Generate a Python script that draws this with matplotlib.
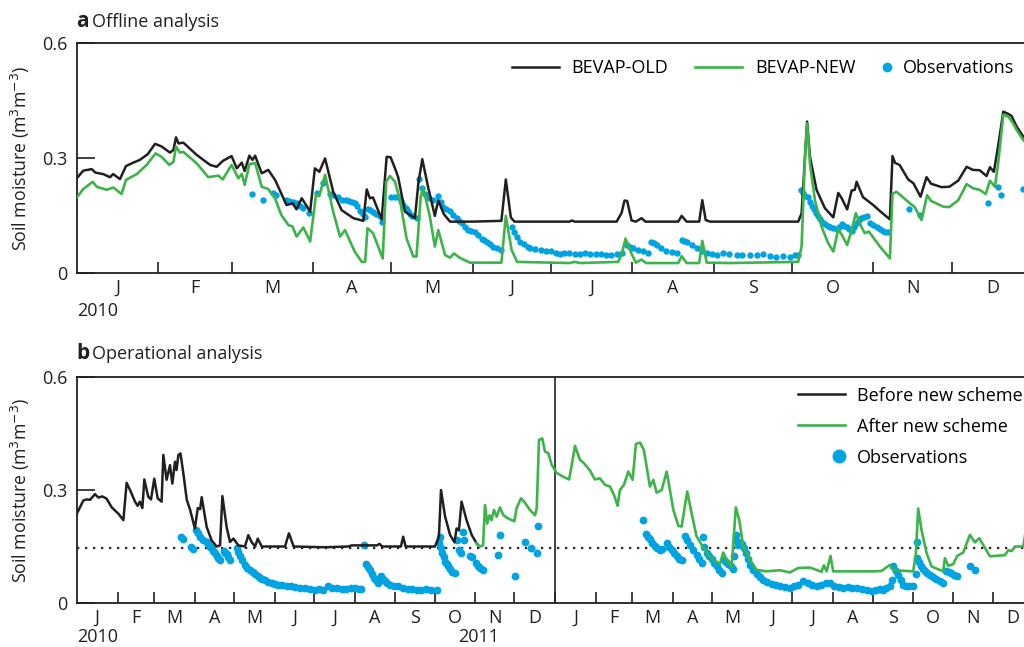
import matplotlib
matplotlib.use('Agg')
import matplotlib.pyplot as plt
from matplotlib.lines import Line2D
from matplotlib.legend_handler import HandlerLine2D
import numpy as np

W, H = 1024, 647
plt.rcParams['font.family'] = ['Open Sans', 'DejaVu Sans']
plt.rcParams['font.size'] = 13

BLACK = '#231f20'
GREEN = '#3cb44a'
BLUE = '#00a3e1'

month_letters = ['J', 'F', 'M', 'A', 'M', 'J', 'J', 'A', 'S', 'O', 'N', 'D']
month_days = [31, 28, 31, 30, 31, 30, 31, 31, 30, 31, 30, 31]

# ---- panel a: offline analysis (x = day of 2010) ----
a_old_day = [0, 2.4, 5.6, 7, 10, 12.6, 13.8, 16.4, 18.7, 21.5, 24, 27, 29.8, 32.3, 35.5, 36.8, 37.8, 38.7,
             40.6, 45.7, 50.8, 53.3, 55.8, 59, 61, 62.9, 64, 65.8, 67, 68, 70.5, 73, 75.6, 80, 82.3, 83.8,
             85.8, 89, 90.8, 92.5, 94.7, 97.8, 101, 105.5, 109.3, 110.6, 111.8, 113, 116.3, 118.2, 119.7,
             121.4, 122.6, 125.2, 129, 130.3, 131.8, 134, 136.6, 137.9, 140, 142.4, 151, 162, 163.7, 165.6,
             167, 188, 189, 190, 206, 207.9, 209, 210, 211.7, 213.3, 215.5, 217, 229.5, 230.8, 232.7, 237.5,
             238.7, 240, 241.7, 275.3, 276.6, 277.9, 278.7, 279.8, 282.3, 285.5, 288.7, 290.6, 291.9, 294,
             295.7, 296.9, 297.6, 300, 304, 306.6, 310.3, 311.3, 312.3, 314, 317.3, 319.3, 322, 324.3, 326,
             330, 333, 336.4, 339.6, 342, 344.6, 347.2, 348.5, 350, 351.6, 353.6, 355.5, 356.7, 358.7, 361.2,
             364]
a_old_val = [.248, .267, .271, .262, .258, .250, .258, .245, .279, .288, .295, .310, .337, .330, .314, .321,
             .354, .338, .340, .308, .282, .277, .293, .305, .273, .288, .266, .306, .295, .306, .260, .269,
             .243, .177, .182, .166, .195, .160, .273, .264, .299, .212, .164, .143, .136, .218, .195, .197,
             .140, .303, .302, .273, .250, .160, .143, .234, .297, .225, .149, .190, .154, .134, .134, .136,
             .244, .145, .134, .134, .137, .134, .134, .157, .189, .188, .137, .134, .143, .134, .134, .149,
             .134, .134, .190, .138, .134, .134, .156, .303, .395, .303, .217, .169, .145, .209, .195, .166,
             .215, .217, .238, .198, .177, .161, .140, .305, .287, .282, .244, .234, .199, .250, .233, .224,
             .225, .241, .277, .269, .268, .253, .276, .264, .330, .421, .415, .410, .382, .356, .340]

a_new_day = [0, 2.4, 6, 7.5, 11.3, 13.9, 17, 18.7, 22.8, 26.6, 30, 32.3, 35.2, 36.8, 37.8, 39.3, 40.6, 45.7,
             50.1, 54, 55.6, 59, 61.6, 62.9, 64, 65.8, 68, 70.5, 73, 75.6, 78, 80.7, 82.3, 83.8, 86.4, 89,
             91.2, 92.5, 94.7, 97.8, 100.4, 102.3, 106, 108.7, 110, 110.9, 113, 116.7, 118, 119.5, 121.4,
             123.3, 125.8, 128.4, 129.6, 131.2, 132.2, 134.7, 136.6, 137.9, 140.5, 142.4, 143.9, 146, 150,
             162, 163.7, 165.9, 168, 188, 190, 192, 206.6, 208, 209.4, 211.5, 213.3, 215.5, 217.2, 229.5,
             230.8, 232.7, 237.5, 238.7, 240.4, 249, 275.3, 276.6, 277.9, 278.7, 279.8, 281.7, 284.2, 286.8,
             288.7, 290.6, 291.9, 294, 295.7, 297.3, 299.4, 300.7, 302.3, 306.5, 310.3, 311.3, 312.8, 314.7,
             317.9, 319.8, 322.4, 324.5, 326, 330.7, 333, 336.4, 339.6, 342, 344.6, 346.9, 348.5, 350.4,
             351.6, 353.6, 355.5, 357.3, 358.7, 361.2, 364]
a_new_val = [.198, .219, .238, .225, .217, .223, .206, .243, .258, .282, .312, .303, .282, .290, .330, .314,
             .316, .286, .250, .254, .244, .282, .247, .259, .230, .284, .287, .225, .219, .195, .151, .125,
             .121, .095, .119, .082, .203, .201, .256, .160, .095, .112, .056, .029, .029, .117, .104, .038,
             .238, .253, .238, .190, .090, .043, .043, .199, .221, .147, .069, .112, .047, .040, .051, .040,
             .027, .027, .149, .060, .029, .026, .029, .026, .029, .051, .090, .053, .027, .035, .026, .026,
             .044, .026, .026, .084, .027, .026, .029, .069, .303, .390, .284, .190, .121, .077, .056, .114,
             .100, .073, .112, .156, .121, .104, .108, .069, .038, .206, .212, .201, .182, .172, .138, .203,
             .188, .173, .172, .190, .232, .221, .217, .206, .241, .225, .284, .413, .408, .391, .373, .347,
             .330]

a_obs_day = [66.7, 70.9, 74.7, 76, 79.8, 81, 82.3, 83.8, 85, 86.4, 88.7, 91.5, 93.8, 96.5, 97.8, 99.5, 101,
             102.5, 104, 105, 106, 107, 108, 109, 110, 111, 112, 113, 114.3, 115.6, 116.3, 119.7, 121.5,
             122.6, 123.6, 124.6, 125.5, 126.5, 127.3, 128, 129.6, 130.7, 131.8, 133, 134.5, 136, 137.9,
             138.8, 139.8, 141, 142.4, 143.7, 145, 146, 146.8, 148, 149.3, 150.5, 151.8, 153, 154.5, 155.5,
             156.4, 157.6, 158.9, 160.5, 162, 165.9, 167, 168, 169, 170.5, 172, 173, 175, 177, 179, 181,
             182.7, 184.4, 186, 188, 190, 192, 194, 196, 198, 200, 202, 204, 206, 208, 209.8, 211, 212.3,
             214, 216.2, 218, 219.3, 220.3, 221.3, 223, 225, 227, 229, 230.8, 231.7, 232.7, 234.7, 236.7,
             238.5, 240.4, 242.4, 244.4, 246.7, 249, 251.8, 254, 256.9, 259.5, 262, 264.5, 267, 269.5,
             272.2, 274, 275.3, 276.3, 277.1, 277.9, 279.1, 279.8, 280.4, 281.2, 282, 282.8, 283.6, 284.5,
             285.5, 286.5, 287.4, 288.7, 290, 291, 291.9, 292.8, 293.8, 294.7, 295.7, 296.6, 297.6, 298.5,
             299.4, 300.4, 301.4, 302.6, 303.9, 305.2, 306.5, 307.7, 308.6, 309.6, 317.7, 321.7, 347.6,
             351.6, 352.6, 361.2]
a_obs_val = [.206, .190, .209, .203, .190, .188, .186, .182, .176, .169, .157, .208, .236, .205, .203, .198,
             .190, .191, .189, .186, .183, .175, .163, .155, .147, .168, .164, .160, .154, .148, .134, .197,
             .197, .197, .187, .177, .169, .161, .155, .149, .143, .244, .223, .205, .196, .190, .200, .186,
             .173, .167, .161, .152, .143, .136, .130, .121, .112, .110, .108, .099, .090, .085, .081, .075,
             .069, .064, .060, .121, .108, .095, .082, .075, .068, .064, .062, .060, .058, .057, .053, .050,
             .051, .051, .049, .050, .051, .049, .050, .049, .047, .046, .049, .052, .073, .068, .064, .060,
             .057, .051, .082, .077, .073, .066, .058, .055, .051, .086, .083, .081, .073, .065, .058, .051,
             .050, .048, .051, .049, .048, .047, .046, .048, .050, .045, .043, .045, .043, .046, .048, .217,
             .209, .201, .197, .186, .175, .166, .157, .148, .140, .133, .127, .122, .119, .117, .115, .121,
             .127, .123, .119, .114, .109, .120, .131, .137, .143, .146, .149, .131, .126, .121, .115, .110,
             .108, .106, .166, .151, .182, .224, .203, .219]

# ---- panel b: operational analysis (x = days since 1 Jan 2010) ----
b_before_day = [0, 4.8, 7.4, 10, 13.7, 16.3, 19.3, 22.6, 26.5, 31.6, 35.4, 37.9, 40.5, 44.3, 46.3, 48, 49.9,
                51.4, 54.4, 56.5, 59, 61.6, 64.6, 65.9, 68.4, 71, 72.8, 74.8, 76, 77.4, 79, 81.2, 83.8, 86.3,
                90, 92.2, 94, 95.2, 99, 102.8, 106.6, 109.2, 111, 114.2, 116.8, 119.4, 123.2, 128.2, 130.8,
                133.3, 136, 138, 141, 158.8, 161.8, 165.4, 189.3, 207, 210, 229, 231, 233, 247.3, 249, 250.9,
                273.3, 276.3, 277.9, 281, 284.8, 288.2, 289.8, 291.6, 293.6, 297.4, 301.3, 305, 307]
b_before_val = [.238, .272, .275, .274, .289, .280, .283, .277, .254, .237, .220, .319, .300, .269, .258, .269,
                .252, .328, .282, .275, .330, .278, .269, .393, .327, .366, .317, .375, .353, .393, .397, .344,
                .274, .248, .198, .252, .249, .281, .202, .166, .150, .153, .284, .202, .162, .171, .153, .150,
                .180, .162, .150, .171, .150, .150, .185, .150, .148, .150, .153, .153, .157, .150, .150, .176,
                .150, .150, .176, .300, .230, .181, .161, .198, .193, .269, .220, .181, .159, .150]

b_after_day = [305, 307.6, 310, 311.5, 313.2, 315, 316.5, 318.3, 320.4, 322.9, 325.5, 328.8, 333.9, 335.6, 339,
               342, 345.8, 349.7, 351, 352.7, 355.2, 357.3, 359.8, 362.4, 366, 371.2, 375.7, 377.5, 380.2, 384,
               386.5, 391.6, 395.4, 399.2, 403.1, 406.9, 410, 412.7, 414.5, 417.6, 420.9, 424.2, 426.7, 429.8,
               432.8, 437.4, 440, 442.5, 446.4, 450.2, 455.3, 459.1, 461.6, 465.9, 469.2, 473, 476.8, 480.7,
               485.8, 490.8, 493.4, 496, 499.8, 503, 505.6, 508.7, 513.7, 518.8, 526.4, 536.6, 544.3, 550.6,
               559.5, 568.4, 570.2, 572.3, 575.3, 577.3, 607.9, 614.2, 620.6, 623.2, 638.4, 640.5, 642.2,
               644.8, 648.6, 652.4, 661.3, 662.6, 665.1, 668.9, 672, 676.6, 681.7, 685.5, 688.8, 697, 708.4,
               711, 713.6, 716.1, 722.5, 724]
b_after_val = [.159, .150, .153, .260, .211, .233, .220, .247, .229, .254, .233, .225, .217, .252, .278, .266,
               .247, .233, .252, .433, .437, .402, .398, .367, .346, .335, .328, .362, .417, .380, .373, .352,
               .328, .331, .314, .309, .287, .258, .300, .314, .349, .327, .422, .426, .406, .309, .327, .293,
               .300, .349, .247, .205, .203, .296, .239, .177, .155, .133, .115, .104, .134, .115, .097, .254,
               .220, .150, .115, .088, .084, .087, .081, .093, .094, .083, .100, .084, .125, .084, .084, .085,
               .101, .087, .084, .133, .251, .193, .133, .097, .084, .119, .099, .103, .125, .134, .181, .161,
               .172, .124, .127, .140, .138, .150, .150, .185]

b_obs_day = [79.4, 81.2, 87, 88.2, 90.6, 92.2, 94, 96.5, 99, 100.3, 101.5, 102.8, 104, 105.3, 106.6, 108,
             109.2, 112.4, 113.3, 114.2, 115.5, 116.8, 121.9, 123.2, 124.5, 126.3, 128.2, 130, 132, 134, 136,
             138, 139.8, 141.6, 143.5, 146, 148.6, 151, 153.7, 156.8, 160, 163, 166.4, 170, 174, 178, 181.7,
             185, 188, 191.9, 195, 198.5, 202, 205.5, 209, 212, 215, 217, 219.4, 221, 222.2, 223.4, 225,
             226.8, 228.3, 229.9, 231, 232.4, 233.7, 235, 236.9, 238.8, 242, 245.2, 249, 252.8, 256, 259.5,
             263, 266.5, 270, 274.5, 276.3, 277, 278, 279, 280, 281, 282.3, 283.5, 285, 286.6, 288.6, 289.8,
             291.6, 292.9, 294.4, 295.7, 300, 301.5, 305, 306.5, 308, 310, 321.5, 322.8, 334.3, 342.4,
             346.5, 350.9, 351.6,
             431.8, 434.3, 435.8, 437.4, 439.3, 441.2, 443, 445, 447, 450.2, 452, 454, 456, 457.8, 459.7,
             461.6, 464.1, 466, 468, 470.5, 473, 475, 476.8, 477.6, 479, 480.7, 482.6, 484.5, 486.4, 488.3,
             490.2, 492.1, 494, 495.6, 497.2, 499, 500.6, 501.6, 502.8, 503.8, 504.8, 506, 507.4, 509, 510.7,
             512.2, 513.7, 516, 518.8, 521.3, 523.9, 527, 530.3, 533.5, 536.6, 540.5, 544.3, 547.5, 550.6,
             554.5, 558, 561.5, 564.6, 568, 571.5, 574.8, 578, 581.5, 585, 588.5, 592, 595.2, 599, 603,
             606.6, 610, 613, 615.5, 618, 620.6, 622.6, 623.2, 625, 627, 629, 630.8, 633, 635.5, 638.4,
             640.5, 641, 641.5, 642.8, 644, 645.6, 647.3, 649.2, 651.1, 653.6, 656.1, 658.7, 661.3, 663.8,
             665.7, 667.6, 669.5, 671.5, 681.7, 685.5]
b_obs_val = [.176, .169, .150, .143, .194, .185, .175, .168, .161, .156, .150, .145, .139, .133, .126, .120,
             .115, .139, .134, .130, .122, .115, .145, .135, .126, .113, .101, .094, .088, .082, .077, .071,
             .066, .063, .060, .056, .053, .051, .049, .047, .044, .044, .043, .041, .040, .038, .035, .036,
             .035, .044, .041, .039, .037, .038, .041, .040, .037, .036, .154, .104, .096, .088, .077, .066,
             .060, .053, .062, .071, .064, .058, .053, .049, .046, .044, .041, .037, .036, .035, .034, .036,
             .034, .034, .159, .176, .146, .134, .122, .110, .103, .097, .089, .081, .080, .168, .142, .134,
             .189, .168, .124, .122, .106, .099, .093, .087, .127, .180, .072, .161, .146, .133, .204,
             .220, .183, .176, .169, .160, .152, .147, .142, .143, .159, .150, .140, .132, .124, .118, .113,
             .177, .166, .155, .141, .127, .116, .106, .176, .150, .133, .125, .117, .107, .097, .088, .080,
             .115, .110, .104, .097, .090, .125, .180, .165, .155, .158, .157, .145, .133, .117, .101, .088,
             .077, .069, .062, .056, .051, .049, .046, .043, .040, .045, .049, .058, .052, .047, .044, .048,
             .052, .053, .046, .043, .040, .043, .041, .040, .038, .035, .031, .034, .036, .035, .040, .046,
             .062, .097, .086, .075, .062, .049, .046, .045, .044, .077, .163, .119, .108, .097, .090, .084,
             .079, .075, .069, .064, .058, .053, .084, .082, .080, .075, .071, .097, .087]

threshold = 0.146


class MarkerAtEnd(HandlerLine2D):
    # put a lone legend marker next to its label instead of mid-handle
    def get_xdata(self, legend, xdescent, ydescent, width, height, fontsize):
        x = width - xdescent - 0.3 * fontsize
        return [x, x], [x]


def px(x, y):
    return x / W, 1 - y / H


def style_axes(ax, years, xmax):
    starts = np.concatenate([[0], np.cumsum(month_days * years)])
    mids = starts[:-1] + np.array(month_days * years) / 2
    ax.set_xlim(0, xmax)
    ax.set_ylim(0, 0.6)
    ax.set_xticks(starts[1:-1], labels=[])
    ax.set_xticks(mids, labels=month_letters * years, minor=True)
    ax.tick_params(axis='x', which='major', direction='in', length=8, width=1.2, color=BLACK)
    ax.tick_params(axis='x', which='minor', length=0, pad=4, labelcolor=BLACK)
    ax.set_yticks([0, 0.3, 0.6], labels=['0', '0.3', '0.6'])
    ax.tick_params(axis='y', direction='in', length=13, width=1.2, pad=7, color=BLACK, labelcolor=BLACK)
    ax.spines['right'].set_visible(False)
    for s in ['left', 'top', 'bottom']:
        ax.spines[s].set_linewidth(1.3)
        ax.spines[s].set_color(BLACK)


fig = plt.figure(figsize=(W / 100, H / 100), dpi=100)

# panel a
ax_a = fig.add_axes([77 / W, 1 - 273 / H, 947 / W, 230 / H])
style_axes(ax_a, 1, 361.5)
ax_a.plot(a_old_day, a_old_val, color=BLACK, lw=1.8, zorder=3)
ax_a.plot(a_new_day, a_new_val, color=GREEN, lw=1.9, zorder=4)
ax_a.plot(a_obs_day, a_obs_val, 'o', color=BLUE, ms=4.6, mec='none', zorder=2)

leg_lines = ax_a.legend([Line2D([], [], color=BLACK, lw=1.8), Line2D([], [], color=GREEN, lw=1.9)],
                        ['BEVAP-OLD', 'BEVAP-NEW'], ncol=2, frameon=False,
                        loc='center right', bbox_to_anchor=(0.822, 0.89), handlelength=2.6,
                        handletextpad=0.7, columnspacing=1.5, borderpad=0, borderaxespad=0)
ax_a.add_artist(leg_lines)
ax_a.legend([Line2D([], [], ls='none', marker='o', color=BLUE, ms=7, mec='none')], ['Observations'],
            frameon=False, loc='center right', bbox_to_anchor=(0.99, 0.89), handlelength=0.8,
            handletextpad=0.5, borderpad=0, borderaxespad=0)

# panel b
ax_b = fig.add_axes([77 / W, 1 - 603 / H, 947 / W, 226 / H])
style_axes(ax_b, 2, 723)
ax_b.axhline(threshold, color=BLACK, lw=1.6, ls=(0, (1, 2.6)), zorder=1)
ax_b.axvline(365, color=BLACK, lw=1.2, zorder=1)
ax_b.plot(b_before_day, b_before_val, color=BLACK, lw=1.8, zorder=3)
ax_b.plot(b_after_day, b_after_val, color=GREEN, lw=1.9, zorder=4)
ax_b.plot(b_obs_day, b_obs_val, 'o', color=BLUE, ms=5.6, mec='none', zorder=2)
obs_b = Line2D([], [], ls='none', marker='o', color=BLUE, ms=10, mec='none')
handles_b = [Line2D([], [], color=BLACK, lw=1.8), Line2D([], [], color=GREEN, lw=1.9), obs_b]
ax_b.legend(handles_b, ['Before new scheme', 'After new scheme', 'Observations'], frameon=False,
            loc='upper left', bbox_to_anchor=(0.761, 0.957), handlelength=2.6, handletextpad=0.7,
            labelspacing=0.72, borderpad=0, borderaxespad=0, handler_map={obs_b: MarkerAtEnd()})

# titles, axis labels, years
for letter, title, ytop in [('a', 'Offline analysis', 27), ('b', 'Operational analysis', 359)]:
    fig.text(*px(76, ytop), letter, fontsize=15, fontweight='bold', va='baseline', color=BLACK)
    fig.text(*px(92, ytop), title, fontsize=13, va='baseline', color=BLACK)

ylabel = 'Soil moisture (m$^3$m$^{-3}$)'
fig.text(*px(20, 158), ylabel, rotation=90, ha='center', va='center', fontsize=12.8, color=BLACK)
fig.text(*px(20, 490), ylabel, rotation=90, ha='center', va='center', fontsize=12.8, color=BLACK)

fig.text(*px(77, 311), '2010', va='center', color=BLACK)
fig.text(*px(77, 637), '2010', va='center', color=BLACK)
fig.text(*px(458, 637), '2011', va='center', color=BLACK)

fig.savefig('out.png', dpi=100)
